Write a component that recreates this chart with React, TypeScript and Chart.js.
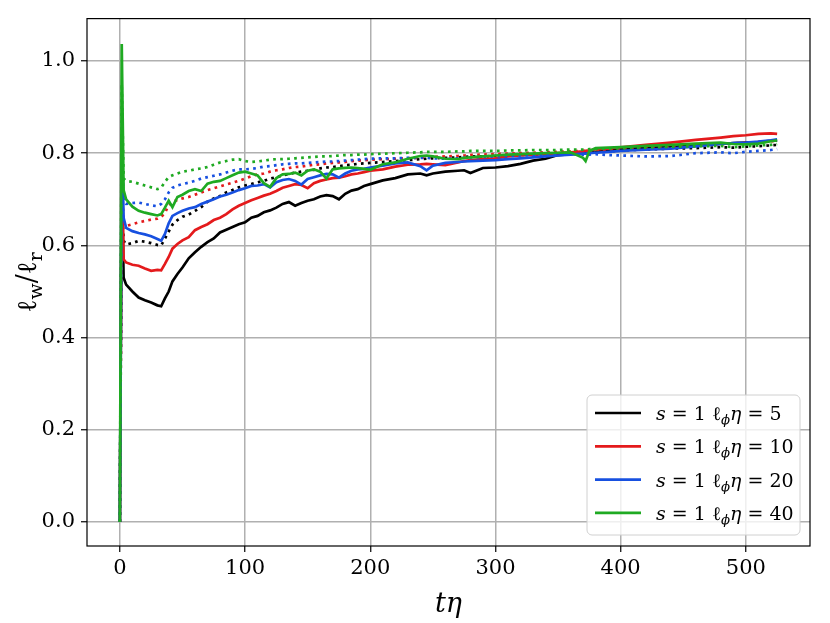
import { useEffect, useRef } from "react";
import { Chart, registerables } from "chart.js";
Chart.register(...registerables);

// time axis (t*eta)
const t = [0, 1.5, 3, 5, 10, 15, 20, 25, 30, 33, 36, 39, 42, 46, 50, 55, 60, 65, 70, 75, 80, 85, 90, 95, 100, 105, 110, 115, 120, 125, 130, 135, 140, 145, 150, 155, 160, 165, 170, 175, 180, 185, 190, 195, 200, 210, 220, 230, 240, 245, 250, 260, 270, 275, 280, 290, 300, 310, 320, 330, 340, 350, 360, 370, 372, 375, 380, 390, 400, 420, 440, 460, 480, 490, 500, 510, 520, 525];

const blackSolid = [0, 0.75, 0.53, 0.515, 0.5, 0.487, 0.481, 0.476, 0.47, 0.468, 0.485, 0.5, 0.522, 0.538, 0.552, 0.572, 0.585, 0.597, 0.607, 0.615, 0.628, 0.634, 0.64, 0.646, 0.65, 0.66, 0.664, 0.672, 0.676, 0.682, 0.69, 0.694, 0.686, 0.692, 0.697, 0.7, 0.706, 0.709, 0.707, 0.7, 0.712, 0.719, 0.722, 0.729, 0.733, 0.741, 0.746, 0.754, 0.756, 0.752, 0.756, 0.76, 0.762, 0.763, 0.757, 0.768, 0.769, 0.772, 0.777, 0.784, 0.788, 0.796, 0.798, 0.8, 0.8, 0.801, 0.802, 0.806, 0.809, 0.812, 0.816, 0.818, 0.82, 0.822, 0.823, 0.824, 0.827, 0.828];
const redSolid = [0, 0.8, 0.57, 0.563, 0.558, 0.556, 0.55, 0.545, 0.547, 0.546, 0.56, 0.575, 0.593, 0.603, 0.611, 0.618, 0.633, 0.64, 0.646, 0.655, 0.66, 0.668, 0.678, 0.686, 0.692, 0.698, 0.703, 0.708, 0.712, 0.718, 0.725, 0.729, 0.733, 0.731, 0.724, 0.735, 0.74, 0.743, 0.746, 0.747, 0.75, 0.754, 0.756, 0.759, 0.762, 0.765, 0.771, 0.775, 0.776, 0.777, 0.776, 0.774, 0.78, 0.783, 0.785, 0.787, 0.789, 0.793, 0.795, 0.797, 0.798, 0.8, 0.802, 0.804, 0.805, 0.806, 0.808, 0.81, 0.813, 0.818, 0.823, 0.829, 0.834, 0.837, 0.839, 0.842, 0.843, 0.842];
const blueSolid = [0, 0.84, 0.66, 0.638, 0.631, 0.627, 0.624, 0.62, 0.614, 0.61, 0.625, 0.648, 0.664, 0.67, 0.675, 0.68, 0.683, 0.69, 0.695, 0.7, 0.706, 0.71, 0.715, 0.72, 0.724, 0.729, 0.73, 0.733, 0.726, 0.737, 0.742, 0.744, 0.74, 0.732, 0.744, 0.748, 0.752, 0.755, 0.754, 0.747, 0.756, 0.762, 0.765, 0.766, 0.769, 0.773, 0.778, 0.78, 0.772, 0.763, 0.773, 0.779, 0.781, 0.782, 0.783, 0.784, 0.785, 0.787, 0.789, 0.791, 0.793, 0.795, 0.797, 0.799, 0.799, 0.8, 0.801, 0.803, 0.805, 0.808, 0.81, 0.815, 0.82, 0.822, 0.823, 0.825, 0.828, 0.83];
const greenSolid = [0, 1.037, 0.72, 0.7, 0.684, 0.675, 0.671, 0.668, 0.665, 0.668, 0.682, 0.697, 0.683, 0.705, 0.71, 0.718, 0.722, 0.718, 0.734, 0.738, 0.74, 0.746, 0.752, 0.758, 0.76, 0.756, 0.752, 0.735, 0.727, 0.746, 0.754, 0.755, 0.758, 0.752, 0.762, 0.765, 0.76, 0.745, 0.765, 0.767, 0.768, 0.769, 0.768, 0.766, 0.764, 0.776, 0.78, 0.788, 0.794, 0.795, 0.793, 0.788, 0.787, 0.79, 0.791, 0.793, 0.795, 0.797, 0.798, 0.799, 0.8, 0.801, 0.802, 0.79, 0.783, 0.805, 0.811, 0.812, 0.813, 0.816, 0.818, 0.821, 0.823, 0.82, 0.819, 0.821, 0.826, 0.828];

const blackDotted = [0, 0.7, 0.61, 0.602, 0.605, 0.61, 0.608, 0.605, 0.601, 0.6, 0.615, 0.63, 0.645, 0.655, 0.662, 0.667, 0.675, 0.683, 0.695, 0.702, 0.707, 0.715, 0.72, 0.726, 0.73, 0.733, 0.737, 0.74, 0.745, 0.748, 0.752, 0.755, 0.758, 0.76, 0.762, 0.764, 0.767, 0.769, 0.77, 0.772, 0.774, 0.775, 0.777, 0.778, 0.779, 0.781, 0.783, 0.785, 0.787, 0.788, 0.789, 0.79, 0.791, 0.792, 0.793, 0.793, 0.794, 0.795, 0.796, 0.797, 0.798, 0.799, 0.8, 0.801, 0.801, 0.802, 0.803, 0.804, 0.806, 0.808, 0.81, 0.811, 0.813, 0.812, 0.814, 0.815, 0.817, 0.818];
const redDotted = [0, 0.75, 0.645, 0.642, 0.646, 0.65, 0.653, 0.656, 0.658, 0.662, 0.67, 0.688, 0.694, 0.699, 0.702, 0.705, 0.71, 0.715, 0.72, 0.724, 0.728, 0.732, 0.736, 0.74, 0.745, 0.75, 0.754, 0.756, 0.76, 0.763, 0.765, 0.768, 0.77, 0.771, 0.773, 0.775, 0.776, 0.778, 0.779, 0.78, 0.781, 0.783, 0.784, 0.785, 0.786, 0.787, 0.788, 0.789, 0.79, 0.791, 0.792, 0.793, 0.794, 0.795, 0.796, 0.797, 0.798, 0.799, 0.8, 0.801, 0.802, 0.803, 0.804, 0.805, 0.805, 0.806, 0.807, 0.808, 0.81, 0.813, 0.815, 0.818, 0.82, 0.821, 0.823, 0.824, 0.826, 0.827];
const blueDotted = [0, 0.8, 0.695, 0.69, 0.692, 0.693, 0.69, 0.687, 0.685, 0.69, 0.7, 0.715, 0.725, 0.73, 0.733, 0.736, 0.74, 0.745, 0.748, 0.751, 0.754, 0.758, 0.762, 0.765, 0.765, 0.766, 0.768, 0.771, 0.772, 0.774, 0.776, 0.777, 0.778, 0.778, 0.779, 0.78, 0.781, 0.782, 0.782, 0.783, 0.784, 0.785, 0.786, 0.787, 0.788, 0.789, 0.789, 0.79, 0.79, 0.79, 0.789, 0.788, 0.789, 0.79, 0.791, 0.792, 0.793, 0.794, 0.795, 0.796, 0.797, 0.797, 0.798, 0.797, 0.796, 0.797, 0.798, 0.796, 0.795, 0.793, 0.794, 0.8, 0.802, 0.8, 0.803, 0.805, 0.807, 0.809];
const greenDotted = [0, 0.95, 0.745, 0.74, 0.738, 0.734, 0.73, 0.726, 0.722, 0.725, 0.738, 0.748, 0.752, 0.756, 0.76, 0.762, 0.765, 0.767, 0.77, 0.775, 0.78, 0.783, 0.786, 0.787, 0.783, 0.781, 0.782, 0.784, 0.786, 0.787, 0.787, 0.788, 0.789, 0.79, 0.791, 0.792, 0.793, 0.793, 0.794, 0.795, 0.796, 0.796, 0.797, 0.797, 0.798, 0.799, 0.8, 0.801, 0.802, 0.803, 0.803, 0.803, 0.804, 0.804, 0.805, 0.805, 0.805, 0.806, 0.806, 0.807, 0.807, 0.807, 0.808, 0.808, 0.808, 0.809, 0.809, 0.81, 0.811, 0.812, 0.814, 0.815, 0.816, 0.813, 0.815, 0.817, 0.818, 0.82];

const xTicks = [0, 100, 200, 300, 400, 500];
const yTicks = [0, 0.2, 0.4, 0.6, 0.8, 1.0];
const legendValues = ["5", "10", "20", "40"];
const colors = ["#000000", "#e41a1c", "#1750e0", "#1faa22"];

const SERIF = "'DejaVu Serif', 'Liberation Serif', serif";

type Part = { text: string; italic?: boolean; sub?: boolean };

function drawRich(ctx: CanvasRenderingContext2D, parts: Part[], x: number, y: number, size: number, align: "left" | "center") {
  const subSize = size * 0.7;
  const fontFor = (p: Part) => `${p.italic ? "italic " : ""}${p.sub ? subSize : size}px ${SERIF}`;
  let total = 0;
  for (const p of parts) {
    ctx.font = fontFor(p);
    total += ctx.measureText(p.text).width;
  }
  let cx = align === "center" ? x - total / 2 : x;
  ctx.textAlign = "left";
  ctx.textBaseline = "alphabetic";
  for (const p of parts) {
    ctx.font = fontFor(p);
    ctx.fillText(p.text, cx, p.sub ? y + size * 0.22 : y);
    cx += ctx.measureText(p.text).width;
  }
}

const decorPlugin = {
  id: "decor",
  afterDatasetsDraw(chart: any) {
    const { ctx, chartArea } = chart;
    ctx.save();
    ctx.strokeStyle = "#000";
    ctx.lineWidth = 1.2;
    ctx.strokeRect(chartArea.left, chartArea.top, chartArea.right - chartArea.left, chartArea.bottom - chartArea.top);
    ctx.restore();
  },
  afterDraw(chart: any) {
    const { ctx, chartArea } = chart;
    ctx.save();
    ctx.fillStyle = "#000";
    // x title
    drawRich(ctx, [{ text: "t", italic: true }, { text: "η", italic: true }], (chartArea.left + chartArea.right) / 2, 612, 27, "center");
    // y title
    ctx.save();
    ctx.translate(36, (chartArea.top + chartArea.bottom) / 2);
    ctx.rotate(-Math.PI / 2);
    drawRich(ctx, [
      { text: "ℓ" }, { text: "w", sub: true }, { text: "/" }, { text: "ℓ" }, { text: "r", sub: true },
    ], 0, 0, 27, "center");
    ctx.restore();

    // legend
    const bx = 587, by = 395, bw = 213, bh = 140, r = 5;
    ctx.beginPath();
    ctx.moveTo(bx + r, by);
    ctx.arcTo(bx + bw, by, bx + bw, by + bh, r);
    ctx.arcTo(bx + bw, by + bh, bx, by + bh, r);
    ctx.arcTo(bx, by + bh, bx, by, r);
    ctx.arcTo(bx, by, bx + bw, by, r);
    ctx.closePath();
    ctx.fillStyle = "rgba(255,255,255,0.8)";
    ctx.fill();
    ctx.strokeStyle = "#d0d0d0";
    ctx.lineWidth = 1;
    ctx.stroke();

    legendValues.forEach((v, i) => {
      const ly = 413 + i * 33.3;
      ctx.strokeStyle = colors[i];
      ctx.lineWidth = 2.7;
      ctx.beginPath();
      ctx.moveTo(595, ly);
      ctx.lineTo(641, ly);
      ctx.stroke();
      ctx.fillStyle = "#000";
      drawRich(ctx, [
        { text: "s", italic: true }, { text: " = 1 " }, { text: "ℓ" }, { text: "ϕ", italic: true, sub: true },
        { text: "η", italic: true }, { text: " = " + v },
      ], 656, ly + 7, 19, "left");
    });
    ctx.restore();
  },
};

export default function App() {
  const ref = useRef<HTMLCanvasElement>(null);
  useEffect(() => {
    if (!ref.current) return;
    const mk = (arr: number[]) => t.map((x, i) => ({ x, y: arr[i] }));
    const series = [
      { d: blackSolid, c: colors[0], dot: false },
      { d: blackDotted, c: colors[0], dot: true },
      { d: redSolid, c: colors[1], dot: false },
      { d: redDotted, c: colors[1], dot: true },
      { d: blueSolid, c: colors[2], dot: false },
      { d: blueDotted, c: colors[2], dot: true },
      { d: greenSolid, c: colors[3], dot: false },
      { d: greenDotted, c: colors[3], dot: true },
    ];
    const chart = new Chart(ref.current, {
      type: "line",
      data: {
        datasets: series.map((s, i) => ({
          data: mk(s.d),
          borderColor: s.c,
          borderWidth: 2.7,
          borderDash: s.dot ? [2.7, 4.3] : [],
          pointRadius: 0,
          tension: 0,
          fill: false,
          order: series.length - i,
        })),
      },
      options: {
        animation: false,
        responsive: false,
        devicePixelRatio: 1,
        layout: { padding: { top: 17, right: 20, left: 0, bottom: 0 } },
        plugins: { legend: { display: false }, tooltip: { enabled: false } },
        scales: {
          x: {
            type: "linear",
            min: -26.25,
            max: 551.25,
            afterBuildTicks: (s: any) => { s.ticks = xTicks.map((v) => ({ value: v })); },
            afterFit: (s: any) => { s.height = 77; },
            ticks: { font: { family: SERIF, size: 21 }, color: "#000", padding: 4, maxRotation: 0, callback: (v: any) => String(v) },
            grid: { color: "#b0b0b0", lineWidth: 1.5, tickColor: "#000", tickLength: 6, tickWidth: 1.2 },
            border: { display: false },
          },
          y: {
            type: "linear",
            min: -0.052,
            max: 1.092,
            afterBuildTicks: (s: any) => { s.ticks = yTicks.map((v) => ({ value: v })); },
            afterFit: (s: any) => { s.width = 87; },
            ticks: { font: { family: SERIF, size: 21 }, color: "#000", padding: 6, callback: (v: any) => Number(v).toFixed(1) },
            grid: { color: "#b0b0b0", lineWidth: 1.5, tickColor: "#000", tickLength: 6, tickWidth: 1.2 },
            border: { display: false },
          },
        },
      },
      plugins: [decorPlugin],
    });
    return () => chart.destroy();
  }, []);
  return (
    <div style={{ position: "absolute", left: 0, top: 0, width: 830, height: 623, background: "#fff" }}>
      <canvas ref={ref} width={830} height={623} style={{ width: 830, height: 623, display: "block" }} />
    </div>
  );
}
